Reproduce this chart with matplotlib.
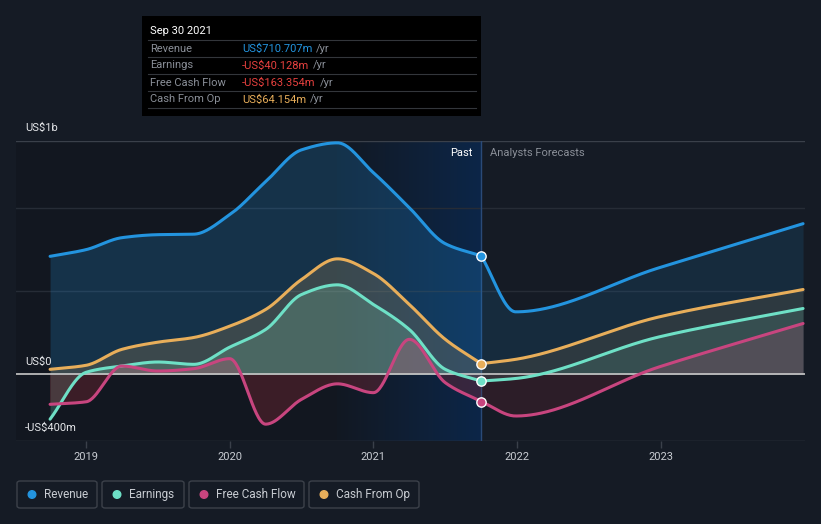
import matplotlib
matplotlib.use('Agg')
import matplotlib.pyplot as plt
from matplotlib.patches import FancyBboxPatch, Circle
from matplotlib.colors import to_rgb
import numpy as np

plt.rcParams['font.family'] = ['Roboto', 'DejaVu Sans']

W, H = 821, 524

# ── data (US$ m) ──
past_x = [2018.75, 2019.0, 2019.25, 2019.5, 2019.75, 2020.0, 2020.25,
          2020.5, 2020.75, 2021.0, 2021.25, 2021.5, 2021.75]
revenue_past = [708, 748, 820, 838, 841, 958, 1156, 1347, 1389, 1210, 1000, 784, 710.707]
earnings_past = [-269, 12, 50, 74, 60, 163, 269, 479, 537, 419, 269, 30, -40.128]
fcf_past = [-180, -165, 50, 20, 34, 94, -299, -150, -57, -110, 210, -50, -163.354]
cfo_past = [30, 54, 150, 193, 221, 289, 389, 569, 693, 605, 419, 210, 64.154]

fc_x = [2021.75, 2021.99, 2022.99, 2023.99]
revenue_fc = [710.707, 375, 640, 904]
earnings_fc = [-40.128, -25, 225, 395]
fcf_fc = [-163.354, -250, 45, 305]
cfo_fc = [64.154, 90, 345, 509]

years = [2019, 2020, 2021, 2022, 2023]

names = ['Revenue', 'Earnings', 'Free Cash Flow', 'Cash From Op']
colors = ['#2394df', '#6ee0c6', '#c8457f', '#e8ae5a']
tip_vals = ['US$710.707m', '-US$40.128m', '-US$163.354m', 'US$64.154m']
tip_cols = ['#2394df', '#e8413f', '#e8413f', '#e8ae5a']

bg = '#151b25'


def pchip(x, y, xs):
    x = np.asarray(x, float); y = np.asarray(y, float)
    h = np.diff(x); d = np.diff(y) / h
    n = len(x)
    m = np.zeros(n)
    m[0], m[-1] = d[0], d[-1]
    for k in range(1, n - 1):
        if d[k - 1] * d[k] <= 0:
            m[k] = 0
        else:
            w1 = 2 * h[k] + h[k - 1]
            w2 = h[k] + 2 * h[k - 1]
            m[k] = (w1 + w2) / (w1 / d[k - 1] + w2 / d[k])
    idx = np.clip(np.searchsorted(x, xs) - 1, 0, n - 2)
    t = (xs - x[idx]) / h[idx]
    h00 = 2 * t**3 - 3 * t**2 + 1
    h10 = t**3 - 2 * t**2 + t
    h01 = -2 * t**3 + 3 * t**2
    h11 = t**3 - t**2
    return h00 * y[idx] + h10 * h[idx] * m[idx] + h01 * y[idx + 1] + h11 * h[idx] * m[idx + 1]


def fx(px):
    return px / W


def fy(py):
    return 1 - py / H


fig = plt.figure(figsize=(W / 100, H / 100), dpi=100, facecolor=bg)
ax = fig.add_axes([fx(16), fy(441), fx(805) - fx(16), fy(141) - fy(441)])
ax.set_facecolor(bg)
x0 = 2019 - 70 / 143.7
x1 = 2019 + 719 / 143.7
ax.set_xlim(x0, x1)
ax.set_ylim(-400, 1400)

# past highlight (last year) gradient, opaque blend
c_from = np.array(to_rgb('#121822'))
c_to = np.array(to_rgb('#0c2648'))
tt = np.linspace(0, 1, 256)[None, :, None]
grad = c_from + (c_to - c_from) * tt
grad = np.repeat(grad, 2, axis=0)
ax.imshow(grad, extent=[2020.75, 2021.75, -400, 1400], aspect='auto', zorder=0.5,
          interpolation='bilinear')
ax.axvspan(x0, 2020.75, color='#10141c', alpha=0.5, zorder=0.4, lw=0)
ax.axvline(2021.75, color='#2a4a78', lw=1, zorder=1)

# grid
for v, c in [(1400, '#3a404a'), (1000, '#262c36'), (500, '#262c36'), (-400, '#3a404a')]:
    ax.axhline(v, color=c, lw=1, zorder=0.6)

xp = np.linspace(past_x[0], past_x[-1], 400)
xf = np.linspace(fc_x[0], fc_x[-1], 200)
series_past = [revenue_past, earnings_past, fcf_past, cfo_past]
series_fc = [revenue_fc, earnings_fc, fcf_fc, cfo_fc]
fill_alpha = [0.22, 0.22, 0.18, 0.18]

for name, c, sp, sf, fa in zip(names, colors, series_past, series_fc, fill_alpha):
    yp = pchip(past_x, sp, xp)
    yf = pchip(fc_x, sf, xf)
    if name == 'Free Cash Flow':
        ax.fill_between(xp, yp, 0, where=yp < 0, color='#8a2a35', alpha=0.35, lw=0, zorder=1)
        ax.fill_between(xp, yp, 0, where=yp >= 0, color=c, alpha=0.25, lw=0, zorder=1)
        ax.fill_between(xf, yf, 0, where=yf < 0, color='#8a2a35', alpha=0.2, lw=0, zorder=1)
        ax.fill_between(xf, yf, 0, where=yf >= 0, color=c, alpha=0.18, lw=0, zorder=1)
    else:
        ax.fill_between(xp, yp, 0, color=c, alpha=fa, lw=0, zorder=1)
        ax.fill_between(xf, yf, 0, color=c, alpha=fa * 0.6, lw=0, zorder=1)
    ax.plot(xp, yp, color=c, lw=2.2, zorder=3, solid_capstyle='round')
    ax.plot(xf, yf, color=c, lw=2.2, zorder=3, solid_capstyle='round')
    ax.scatter([fc_x[0]], [sf[0]], s=45, color=c, edgecolor='white', lw=1, zorder=5)

ax.axhline(0, color='#c8c8c8', lw=1.2, zorder=2)

for s in ax.spines.values():
    s.set_visible(False)
ax.set_yticks([])
ax.set_xticks(years)
ax.set_xticklabels([str(y) for y in years])
ax.tick_params(axis='x', colors='#3a404a', length=5, width=1, pad=3, labelcolor='#c8ccd2', labelsize=8)

ax.text(2021.75 - 0.06, 1330, 'Past', color='white', fontsize=8, ha='right', va='center', zorder=6)
ax.text(2021.75 + 0.06, 1330, 'Analysts Forecasts', color='#8a8f98', fontsize=8, ha='left', va='center', zorder=6)

# y labels
for txt, py in [('US$1b', 128), ('US$0', 362), ('-US$400m', 428)]:
    fig.text(fx(25), fy(py), txt, color='#e6e8eb', fontsize=8, ha='left', va='center')

# tooltip
tip = fig.add_axes([fx(142), fy(116), fx(481) - fx(142), fy(16) - fy(116)])
tip.set_facecolor('black')
tip.set_xticks([]); tip.set_yticks([])
for s in tip.spines.values():
    s.set_visible(False)
tip.set_xlim(142, 481); tip.set_ylim(116, 16)
tip.text(150, 31, 'Sep 30 2021', color='white', fontsize=8, ha='left', va='center')
for ly in [40, 57, 74, 91, 108]:
    tip.plot([148, 476], [ly, ly], color='#33363b', lw=0.8)
row_y = [48.5, 65.5, 82.5, 99.5]
vals = []
for name, v, c, ry in zip(names, tip_vals, tip_cols, row_y):
    tip.text(150, ry, name, color='#8a8f98', fontsize=8, ha='left', va='center')
    vals.append((tip.text(242, ry, v, color=c, fontsize=8, ha='left', va='center'), ry))

# legend
lx = [(17, 97), (102, 184), (189, 304), (309, 419)]
for (a, b), name, c in zip(lx, names, colors):
    box = FancyBboxPatch((fx(a), fy(508)), fx(b) - fx(a), fy(481) - fy(508),
                         boxstyle='round,pad=0,rounding_size=0.004', transform=fig.transFigure,
                         facecolor=bg, edgecolor='#3c414a', lw=1)
    fig.patches.append(box)
    fig.patches.append(Circle((a + 15, H - 494.5), 3.8, transform=None, color=c))
    fig.text(fx(a + 27), fy(494.5), name, color='#c8ccd2', fontsize=8.5, ha='left', va='center')

fig.canvas.draw()
r = fig.canvas.get_renderer()
for t, ry in vals:
    bb = t.get_window_extent(renderer=r)
    xr = bb.x1 + 4
    fig.text(xr / W, fy(ry), '/yr', color='#8a8f98', fontsize=8, ha='left', va='center')

fig.savefig('out.png', dpi=100, facecolor=bg)
